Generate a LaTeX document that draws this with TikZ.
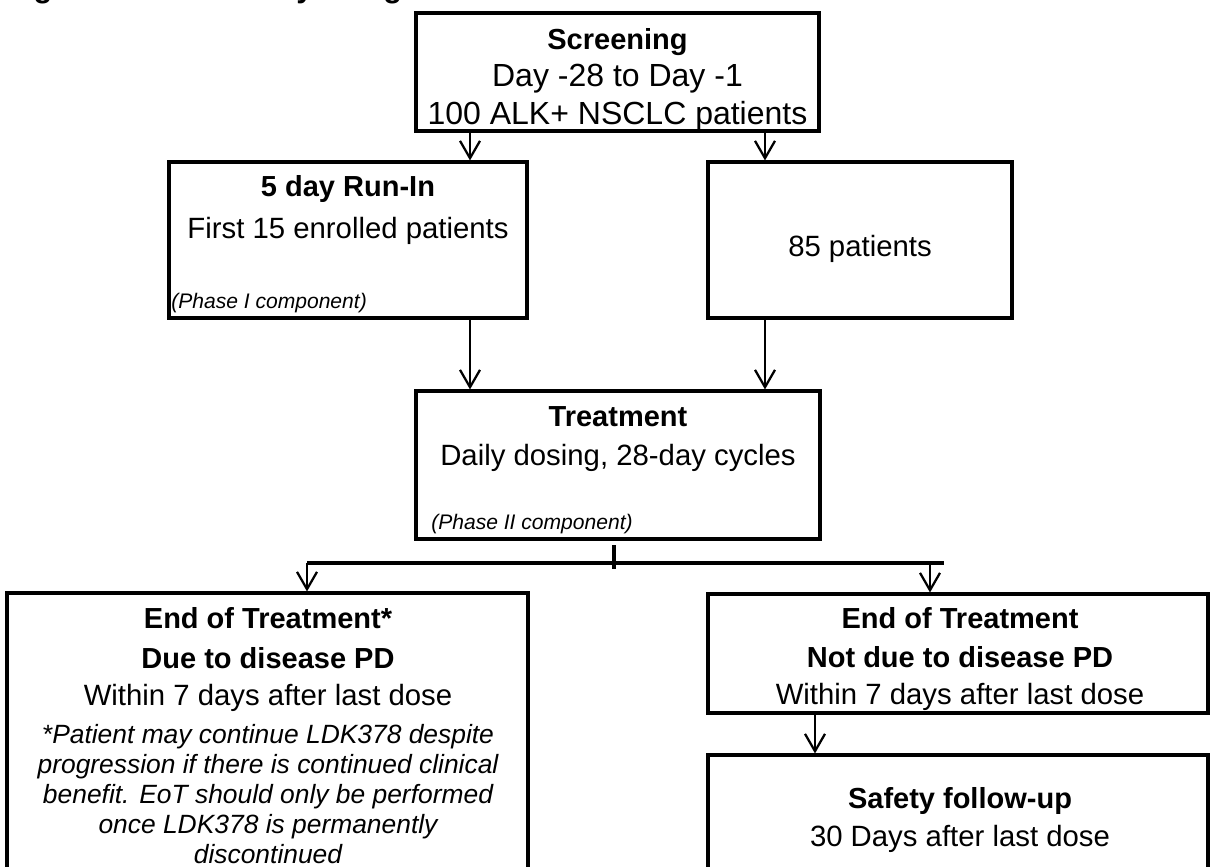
\documentclass[tikz,border=0pt]{standalone}
\usepackage{fontspec}
\setmainfont{Liberation Sans}
\usetikzlibrary{arrows.meta,fit}
\begin{document}
\begin{tikzpicture}[x=0.75pt,y=-0.75pt,
  box/.style={draw=black, line width=2.3pt, inner sep=0pt},
  ttl/.style={anchor=base, inner sep=0pt, font=\bfseries\fontsize{21.75}{26}\selectfont},
  txt/.style={anchor=base, inner sep=0pt, font=\fontsize{22}{26}\selectfont},
  bigtxt/.style={anchor=base, inner sep=0pt, font=\fontsize{24}{28}\selectfont},
  note/.style={anchor=base, inner sep=0pt, font=\itshape\fontsize{19.8}{24}\selectfont},
  phase/.style={anchor=base west, inner sep=0pt, font=\itshape\fontsize{15.8}{19}\selectfont},
  figtitle/.style={anchor=base west, inner sep=0pt, font=\bfseries\fontsize{23}{27}\selectfont},
  arr/.style={line width=1.7pt, -{Straight Barb[length=13pt,width=15pt]}},
  branch/.style={line width=3pt}]
\useasboundingbox (0,0) rectangle (1211,867);
\fill[white] (0,0) rectangle (1211,867);
\clip (0,0) rectangle (1211,867);

% cut-off figure title (only its descenders show)
\node[figtitle] (fig) at (6,-2.5) {Figure 3-1};
\node[figtitle] (figt) at (228,-2.5) {Study design};

% boxes
\node[box, fit={(416,13)(819,131)}] (screen) {};
\node[box, fit={(169,162)(527,318)}] (runin) {};
\node[box, fit={(708,162)(1012,318)}] (rest) {};
\node[box, fit={(416,391)(820,539)}] (treat) {};
\node[box, fit={(7,593)(528,890)}] (eotL) {};
\node[box, fit={(708,594)(1208,713)}] (eotR) {};
\node[box, fit={(708,755)(1208,890)}] (safety) {};

% texts
\node[ttl] (s1) at (617.5,50) {Screening};
\node[bigtxt] (s2) at (617.5,87) {Day -28 to Day -1};
\node[bigtxt] (s3) at (617.5,124) {100 ALK+ NSCLC patients};

\node[ttl] (r1) at (348,196) {5 day Run-In};
\node[txt] (r2) at (348,238) {First 15 enrolled patients};
\node[phase] (r3) at (171,308) {(Phase I component)};

\node[txt] (p1) at (860,256) {85 patients};

\node[ttl] (t1) at (618,426) {Treatment};
\node[txt] (t2) at (618,465) {Daily dosing, 28-day cycles};
\node[phase] (t3) at (431,529) {(Phase II component)};

\node[ttl] (l1) at (268,628) {End of Treatment*};
\node[ttl] (l2) at (268,668) {Due to disease PD};
\node[txt] (l3) at (268,705) {Within 7 days after last dose};
\node[note] (l4) at (268,743) {*Patient may continue LDK378 despite};
\node[note] (l5) at (268,773) {progression if there is continued clinical};
\node[note] (l6) at (268,803) {benefit. EoT should only be performed};
\node[note] (l7) at (268,833) {once LDK378 is permanently};
\node[note] (l8) at (268,863) {discontinued};

\node[ttl] (e1) at (960,628) {End of Treatment};
\node[ttl] (e2) at (960,667) {Not due to disease PD};
\node[txt] (e3) at (960,704) {Within 7 days after last dose};

\node[ttl] (f1) at (960,808) {Safety follow-up};
\node[txt] (f2) at (960,846) {30 Days after last dose};

% connector positions
\coordinate (xa) at (470,0);
\coordinate (xb) at (765,0);
\coordinate (bL) at (307,563);
\coordinate (bR) at (930,563);
\coordinate (bE) at (944,563);
\coordinate (stT) at (614,545);
\coordinate (stB) at (614,569);
\coordinate (xs) at (815,0);

\draw[arr] (screen.south -| xa) -- (runin.north -| xa);
\draw[arr] (screen.south -| xb) -- (rest.north -| xb);
\draw[arr] (runin.south -| xa) -- (treat.north -| xa);
\draw[arr] (rest.south -| xb) -- (treat.north -| xb);

\draw[branch] (bL) -- (bE);
\draw[branch] (stT) -- (stB);
\draw[arr] (bL) -- (eotL.north -| bL);
\draw[arr] (bR) -- (eotR.north -| bR);
\draw[arr] (eotR.south -| xs) -- (safety.north -| xs);
\end{tikzpicture}
\end{document}
